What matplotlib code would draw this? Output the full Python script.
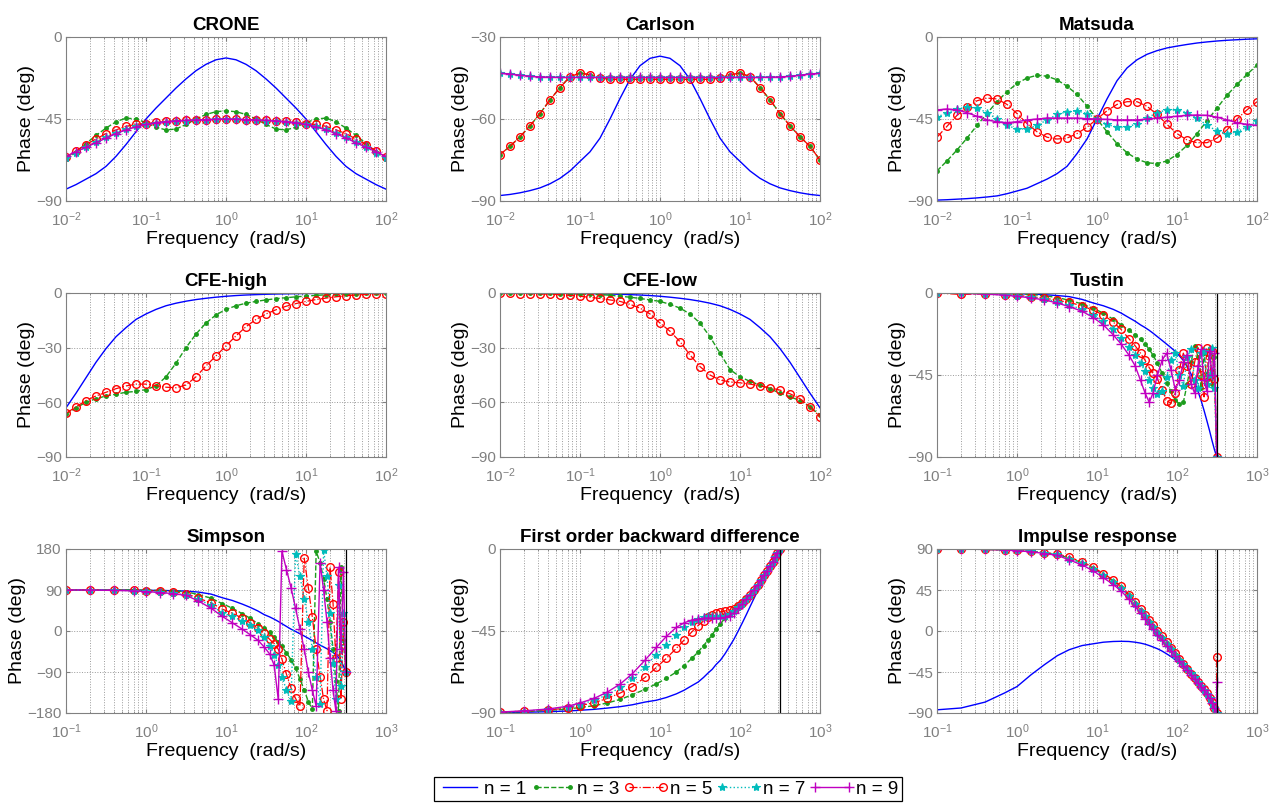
import numpy as np
import matplotlib
matplotlib.use('Agg')
import matplotlib.pyplot as plt
from matplotlib.lines import Line2D
from matplotlib.ticker import LogLocator, NullFormatter

plt.rcParams['font.family'] = ['Liberation Sans', 'DejaVu Sans']
plt.rcParams['mathtext.default'] = 'regular'

# ---- frequency grids ----
# continuous approximations: 8 points per decade, 1e-2 .. 1e2
w_cont = 10.0 ** np.arange(-2, 2.001, 0.125)
# discrete approximations (T = 0.01 s), up to pi/T
w_disc = [0.1, 0.2, 0.4, 0.7, 1, 1.5, 2.2, 3.2, 4.5, 6.5, 9, 12, 16, 20, 25, 30, 35, 40, 45, 50,
          57, 65, 74, 84, 95, 107, 120, 134, 150, 166, 183, 200, 218, 236, 255, 274, 294, 314]
w_imp = w_disc + [314.16]
w_nyq = 314.16

labels = ['n = 1', 'n = 3', 'n = 5', 'n = 7', 'n = 9']

# ---- CRONE ----
crone_n1 = [-83.5, -81, -78, -75, -71, -65.5, -59, -52, -45, -39, -33.5, -28, -23, -18.5, -15, -12.5, -11.5,
            -12.5, -15, -18.5, -23, -28, -33.5, -39, -45, -52, -59, -65.5, -71, -75, -78, -81, -83.5]
crone_n3 = [-67, -63, -58.5, -54, -50, -46.5, -44.5, -45, -47, -49.5, -51, -50.5, -48, -45, -42.5, -41, -40.5,
            -41, -42.5, -45, -48, -50.5, -51, -49.5, -47, -45, -44.5, -46.5, -50, -54, -58.5, -63, -67]
crone_n5 = [-66, -62.5, -59, -56, -53, -51, -49, -48, -47.5, -46.8, -46.3, -46, -45.8, -45.6, -45.4, -45.2, -45,
            -45.2, -45.4, -45.6, -45.8, -46, -46.3, -46.8, -47.5, -48, -49, -51, -53, -56, -59, -62.5, -66]
crone_n7 = [-66.5, -63.5, -60.5, -57.5, -55, -52.5, -50.5, -49, -48, -47.2, -46.6, -46.2, -45.9, -45.6, -45.4, -45.2, -45.1,
            -45.2, -45.4, -45.6, -45.9, -46.2, -46.6, -47.2, -48, -49, -50.5, -52.5, -55, -57.5, -60.5, -63.5, -66.5]
crone_n9 = [-65.5, -63, -60.5, -58, -55.5, -53, -51, -49.3, -48, -47, -46.4, -46, -45.7, -45.5, -45.3, -45.1, -45,
            -45.1, -45.3, -45.5, -45.7, -46, -46.4, -47, -48, -49.3, -51, -53, -55.5, -58, -60.5, -63, -65.5]

# ---- Carlson ----
carlson_n1 = [-88, -87.6, -87, -86.2, -85.2, -83.7, -81.7, -79, -75.5, -72, -67, -60, -52.5, -45.5, -40.5, -37.8, -37,
              -37.8, -40.5, -45.5, -52.5, -60, -67, -72, -75.5, -79, -81.7, -83.7, -85.2, -86.2, -87, -87.6, -88]
carlson_n5 = [-73, -70, -66.5, -62.5, -58, -53, -48.5, -44.5, -43.2, -43.8, -45, -45.5, -45.5, -45.5, -45.5, -45.5, -45.5,
              -45.5, -45.5, -45.5, -45.5, -45.5, -45, -43.8, -43.2, -44.5, -48.5, -53, -58, -62.5, -66.5, -70, -75]
carlson_n3 = list(carlson_n5)   # lies under n = 5
carlson_n9 = [-43.3, -43.5, -44, -44.4, -44.6, -44.7, -44.8, -44.8, -44.8, -44.8, -44.8, -44.8, -44.8, -44.8, -44.8, -44.8, -44.8,
              -44.8, -44.8, -44.8, -44.8, -44.8, -44.8, -44.8, -44.8, -44.8, -44.8, -44.7, -44.6, -44.4, -44, -43.5, -43.3]
carlson_n7 = list(carlson_n9)   # lies under n = 9

# ---- Matsuda ----
matsuda_n1 = [-89.5, -89.3, -89, -88.7, -88.3, -87.8, -87.2, -86, -84.5, -83, -80.5, -78, -75, -71, -64, -56, -45,
              -34, -24, -17, -12.5, -9.5, -7.5, -6, -5, -4.1, -3.3, -2.7, -2.2, -1.8, -1.5, -1.2, -1]
matsuda_n3 = [-73.5, -68, -62, -55.5, -48.5, -42, -35.5, -30, -25.5, -22.5, -21, -21.5, -23.5, -27, -31.5, -38, -45,
              -52, -58.5, -63.5, -67, -69, -69.5, -68, -64.5, -59.5, -53, -46, -39, -32, -26, -20.5, -15.5]
matsuda_n5 = [-55, -49, -43, -38.5, -35, -33.5, -34, -37, -42, -47.5, -52, -55, -56, -55.5, -53, -49.5, -45,
              -40.5, -37, -35.5, -35.5, -38, -42.5, -48, -53, -56.5, -58, -58, -55.5, -51, -45, -40, -35.5]
matsuda_n7 = [-44, -41.5, -39.5, -38.5, -39, -41.5, -45, -48.5, -50.5, -50.5, -48.5, -45.5, -42.5, -41, -40.5, -42, -45,
              -48, -49.5, -49.5, -47.5, -44.5, -41.5, -40, -40, -41.5, -44.5, -48.5, -51.5, -53, -52, -49.5, -46]
matsuda_n9 = [-40, -39.5, -40, -41.5, -43.5, -45.5, -46.5, -47, -46.5, -45.5, -45, -44.5, -44.5, -44.5, -44.5, -44.8, -45,
              -45.2, -45.5, -45.5, -45.5, -45, -44.5, -44, -43.5, -43, -42.8, -43, -44, -45.5, -47, -48, -48.5]

# ---- CFE-high ----
cfeh_n1 = [-63, -55, -46.5, -38, -30.5, -24, -19, -14.5, -11.5, -9, -7, -5.6, -4.5, -3.6, -2.9, -2.3, -1.8,
           -1.4, -1.1, -0.9, -0.7, -0.55, -0.45, -0.35, -0.3, -0.25, -0.2, -0.15, -0.12, -0.1, -0.08, -0.06, -0.05]
cfeh_n3 = [-66.5, -63, -60, -58, -56.5, -55.5, -54.5, -54, -53, -51, -46, -38.5, -30, -22.5, -16.5, -12, -9,
           -7, -5.6, -4.6, -3.8, -3.1, -2.6, -2.1, -1.7, -1.3, -1, -0.7, -0.5, -0.35, -0.25, -0.15, -0.1]
cfeh_n5 = [-66, -62.5, -59, -56.5, -54.5, -52.5, -51, -50, -50, -50.8, -51.7, -52, -50.5, -46, -40, -34.5, -29,
           -23.5, -18.5, -14.5, -11.5, -9.2, -7.3, -5.8, -4.6, -3.6, -2.8, -2.1, -1.5, -1.1, -0.8, -0.5, -0.3]

# ---- CFE-low ----
cfel_n1 = [-0.05, -0.06, -0.08, -0.1, -0.12, -0.15, -0.2, -0.25, -0.3, -0.35, -0.45, -0.55, -0.7, -0.9, -1.1, -1.4, -1.8,
           -2.3, -2.9, -3.6, -4.5, -5.6, -7, -9, -11.5, -14.5, -19, -24, -30.5, -38, -46.5, -55, -63]
cfel_n3 = [0, 0, 0, 0, -0.1, -0.2, -0.3, -0.4, -0.5, -0.7, -0.9, -1.2, -1.8, -2.3, -3, -3.8, -4.6,
           -6.2, -8.3, -11.5, -16.5, -24, -33, -42, -46, -48.5, -50.5, -52.5, -55, -57, -59, -62.5, -67]
cfel_n5 = [-0.1, -0.2, -0.3, -0.4, -0.5, -0.7, -0.9, -1.3, -1.8, -2.4, -3, -3.8, -4.6, -6.2, -8.3, -11.5, -16.5,
           -21, -26.7, -34, -40.4, -45, -47.8, -48.8, -49.3, -50, -51, -52, -53.3, -55.3, -58, -62.5, -68]

# ---- Tustin ----
tustin_n1 = [0, 0, -0.1, -0.2, -0.4, -0.6, -0.9, -1.4, -2, -3.5, -5.5, -7, -9, -11, -13.5, -15.5, -17.5, -19, -20.5, -22,
             -24, -26, -28, -30, -32, -34.5, -37, -40.5, -44.5, -49, -54, -59, -64.5, -70, -75.5, -81, -86, -90]
tustin_n3 = [0, 0, 0, -0.3, -0.5, -0.8, -1.5, -2.5, -4, -6, -8.5, -11, -14.5, -17.5, -20.5, -23, -25.5, -28, -31, -34,
             -38.5, -44, -49.5, -54, -58.5, -61, -60, -50, -38, -29, -35, -52, -33, -48, -30, -50, -35, -90]
tustin_n5 = [0, -0.8, -0.5, -1, -1.3, -2, -2.8, -4, -5.2, -7, -9.5, -12, -16, -20, -25, -29, -33, -37, -41, -44,
             -47, -53, -59, -60.5, -55, -42, -33, -40, -50, -38, -30, -45, -57, -30, -48, -32, -47, -90]
tustin_n7 = [0, 0, -0.5, -1, -1.5, -2.3, -3.3, -4.8, -6.5, -9, -12, -15.5, -20, -24.5, -29.5, -34, -38.5, -43, -48, -52,
             -55.5, -54, -46, -37, -33, -45, -51, -35, -31, -48, -52, -33, -32, -50, -45, -30, -52, -90]
tustin_n9 = [0, -0.2, -0.6, -1.2, -1.8, -2.7, -3.8, -5.5, -7.5, -10, -13.5, -17.5, -23, -28, -34, -40, -48, -55, -60, -55,
             -45, -37, -33, -42, -53, -48, -38, -34, -50, -55, -40, -31, -48, -54, -32, -45, -33, -90]

# ---- Simpson ----
simpson_n1 = [90, 90, 90, 90, 89.5, 89, 88.5, 87.5, 85.5, 81, 73, 67, 59, 52, 44, 36, 31, 26, 21, 16,
              10, 4, -1, -6, -11, -16, -21, -26, -31, -35, -39, -43, -47, -52, -58, -66, -77, -90]
simpson_n3 = [90, 90, 90, 90, 89.5, 89, 88, 86, 80, 72, 60, 50, 38, 28, 16, 6, -3, -14, -24, -34,
              -48, -63, -82, -105, -130, -155, -172, 175, 150, 115, 70, 20, -40, -110, -175, 140, -20, -90]
simpson_n5 = [90, 90, 89.5, 89, 88.5, 87.5, 86, 82, 72, 62, 48, 39, 28, 18, 6, -5, -18, -28, -40, -62,
              -95, -125, -148, -165, 160, 95, 30, -40, -100, -150, -175, 140, 60, -60, 130, -150, 20, -90]
simpson_n7 = [90, 90, 89.5, 88.5, 87, 85, 83, 79, 70, 56, 40, 32, 22, 13, 2, -14, -32, -52, -75, -100,
              -130, -154, 170, 120, 70, 20, -40, -100, -160, 178, 120, 40, -70, -150, 100, -120, 40, -90]
simpson_n9 = [90, 90, 89, 88, 86.5, 84.5, 82, 78, 66, 50, 32, 18, 4, -8, -20, -35, -50, -75, -150, 175,
              135, 95, 50, 5, -40, -90, -130, -165, 150, 90, 20, -60, -130, -175, 140, -40, 130, -90]

# ---- First order backward difference ----
fobd_n1 = [-89.8, -89.6, -89.3, -88.9, -88.5, -88, -87.3, -86.5, -85.5, -84, -83, -81.5, -79.5, -77.5, -75, -73, -70.5, -68, -66, -63.5,
           -61, -57.5, -53.5, -49.5, -45, -40.5, -36, -31.5, -27, -23, -19.5, -16, -13, -10, -7, -4.5, -2, 0]
fobd_n3 = [-89.5, -89.2, -88.6, -87.8, -87, -86, -84.5, -82.5, -80, -77, -74, -71, -67.5, -64, -60, -56.5, -53, -50, -47, -44,
           -41, -38, -35.5, -33, -31, -29, -27, -25, -22.5, -20, -17, -14.5, -12, -9.5, -7, -4.5, -2, 0]
fobd_n5 = [-89.5, -89, -88.3, -87.3, -86, -84.3, -82, -79, -75.5, -70.5, -65, -60, -54.5, -50, -45.5, -42, -39.5, -37.5, -36, -35,
           -34.5, -34, -33.5, -33, -31.5, -29.5, -27.5, -25, -22.5, -20, -17, -14.5, -12, -9.5, -7, -4.5, -2, 0]
fobd_n7 = [-89.5, -89, -88, -86.8, -85.3, -83, -80, -76, -71, -64.5, -58, -52.5, -47, -43, -40, -38.5, -37.5, -37, -37, -37,
           -37, -36.5, -35.5, -34, -32, -30, -27.5, -25, -22.5, -20, -17, -14.5, -12, -9.5, -7, -4.5, -2, 0]
fobd_n9 = [-89.5, -88.8, -87.8, -86.3, -84.5, -82, -78.5, -74, -68.5, -61, -54, -48, -43, -40.5, -39, -38.5, -38, -38, -38, -38,
           -38, -37.5, -36.5, -35, -32.5, -30, -27.5, -25, -22.5, -20, -17, -14.5, -12, -9.5, -7, -4.5, -2, 0]

# ---- Impulse response ----
imp_n1 = [-86.5, -84.5, -78, -68, -61, -48, -37, -27, -20.5, -16, -14, -12.3, -11.5, -11.3, -11.5, -12.3, -13.3, -14.5, -16, -17.5,
          -19.5, -22, -25, -28, -31.5, -35, -38.5, -42, -46, -50, -54, -58, -62, -67, -72, -77.5, -84, -90, -90]
imp_n3 = [90, 90, 89.5, 89, 88.5, 87.5, 86, 84, 80, 75, 69, 62, 55, 48, 39, 31, 23, 17, 11, 5,
          -1, -7, -13, -19, -25, -31, -36, -41, -46, -51, -55.5, -60, -64.5, -69, -73.5, -78.5, -84.5, -90, -90]
imp_n5 = [90, 90, 89.5, 89, 88.5, 87.5, 86, 84.5, 81, 76, 70, 63, 56, 49, 40, 32, 24, 18, 12, 6.5,
          0, -6, -12, -18.5, -24.5, -30.5, -36, -41.5, -47, -52, -56, -60, -64, -68.5, -73, -78, -84, -90, -28]
imp_n7 = [90, 90, 89.5, 89, 88.5, 87.5, 86, 84, 79.5, 74.5, 68.5, 61.5, 54, 47, 38, 30, 22, 16, 10, 4,
          -2, -8, -14, -20, -26, -31.5, -36.5, -41.5, -46.5, -51, -55.5, -60, -64.5, -69, -73.5, -78.5, -84.5, -90, -90]
imp_n9 = [90, 90, 89.5, 89, 88, 87, 85, 83, 78, 72.5, 66, 58.5, 51, 44, 35, 27, 19.5, 13.5, 8, 2,
          -4, -10, -16, -22, -27.5, -33, -38, -43, -48, -52.5, -57, -61, -65, -69.5, -74, -79, -85, -90, -56]

# ---- line styles (MATLAB-like) ----
styles = [
    dict(color='#0000ff', ls='-', lw=1.0),
    dict(color='#1c9c1c', ls='--', lw=1.0, marker='.', ms=5),
    dict(color='#ff0000', ls='-.', lw=0.9, marker='o', ms=5.5, mfc='none', mew=1.0),
    dict(color='#00bcbc', ls=':', lw=1.0, marker='*', ms=6, mew=0.8),
    dict(color='#c000c0', ls='-', lw=1.0, marker='+', ms=7, mew=1.0),
]

panels = [
    ('CRONE', w_cont, [crone_n1, crone_n3, crone_n5, crone_n7, crone_n9], (1e-2, 1e2), (-90, 0), [-90, -45, 0], False),
    ('Carlson', w_cont, [carlson_n1, carlson_n3, carlson_n5, carlson_n7, carlson_n9], (1e-2, 1e2), (-90, -30), [-90, -60, -30], False),
    ('Matsuda', w_cont, [matsuda_n1, matsuda_n3, matsuda_n5, matsuda_n7, matsuda_n9], (1e-2, 1e2), (-90, 0), [-90, -45, 0], False),
    ('CFE-high', w_cont, [cfeh_n1, cfeh_n3, cfeh_n5], (1e-2, 1e2), (-90, 0), [-90, -60, -30, 0], False),
    ('CFE-low', w_cont, [cfel_n1, cfel_n3, cfel_n5], (1e-2, 1e2), (-90, 0), [-90, -60, -30, 0], False),
    ('Tustin', w_disc, [tustin_n1, tustin_n3, tustin_n5, tustin_n7, tustin_n9], (1e-1, 1e3), (-90, 0), [-90, -45, 0], True),
    ('Simpson', w_disc, [simpson_n1, simpson_n3, simpson_n5, simpson_n7, simpson_n9], (1e-1, 1e3), (-180, 180), [-180, -90, 0, 90, 180], True),
    ('First order backward difference', w_disc, [fobd_n1, fobd_n3, fobd_n5, fobd_n7, fobd_n9], (1e-1, 1e3), (-90, 0), [-90, -45, 0], True),
    ('Impulse response', w_imp, [imp_n1, imp_n3, imp_n5, imp_n7, imp_n9], (1e-1, 1e3), (-90, 90), [-90, -45, 0, 45, 90], True),
]

W, H = 1276, 807
fig = plt.figure(figsize=(W / 100, H / 100), dpi=100)

col_left = [66, 500, 937]
row_top = [37, 293, 549]
ax_w, ax_h = 320, 164
gray = '#808080'

for k, (title, w, series, xl, yl, yt, disc) in enumerate(panels):
    r, c = divmod(k, 3)
    ax = fig.add_axes([col_left[c] / W, 1 - (row_top[r] + ax_h) / H, ax_w / W, ax_h / H])
    for i, y in enumerate(series):
        ax.semilogx(w, y, **styles[i])
    if disc:
        ax.axvline(w_nyq, color='k', lw=0.9)
    ax.set_xlim(*xl)
    ax.set_ylim(*yl)
    ax.set_yticks(yt)
    ax.xaxis.set_major_locator(LogLocator(base=10, numticks=10))
    ax.xaxis.set_minor_locator(LogLocator(base=10, subs=np.arange(2, 10), numticks=10))
    ax.xaxis.set_minor_formatter(NullFormatter())
    ax.grid(True, which='major', axis='both', color='#9a9a9a', ls=':', lw=0.7)
    ax.grid(True, which='minor', axis='x', color='#9a9a9a', ls=':', lw=0.7)
    ax.tick_params(which='both', direction='in', top=True, right=True, colors=gray,
                   labelsize=11, labelcolor=gray)
    ax.tick_params(axis='x', which='major', length=3, pad=7)
    ax.tick_params(axis='y', which='major', length=3, pad=3)
    ax.tick_params(which='minor', length=1.5)
    for s in ax.spines.values():
        s.set_color(gray)
        s.set_linewidth(0.8)
    ax.set_title(title, fontsize=13.5, fontweight='bold', pad=5)
    ax.set_xlabel('Frequency  (rad/s)', fontsize=14, labelpad=1)
    ax.set_ylabel('Phase (deg)', fontsize=14, labelpad=1)

handles = [Line2D([], [], **st) for st in styles]
leg = fig.legend(handles, labels, loc='center', bbox_to_anchor=(668 / W, 1 - 789 / H), ncol=5,
                 fontsize=13.5, frameon=True, fancybox=False, edgecolor='k', framealpha=1,
                 handlelength=2.4, handletextpad=0.1, columnspacing=0.2, borderpad=0.2,
                 numpoints=2)
leg.get_frame().set_linewidth(0.9)

fig.savefig('out.png', dpi=100)
